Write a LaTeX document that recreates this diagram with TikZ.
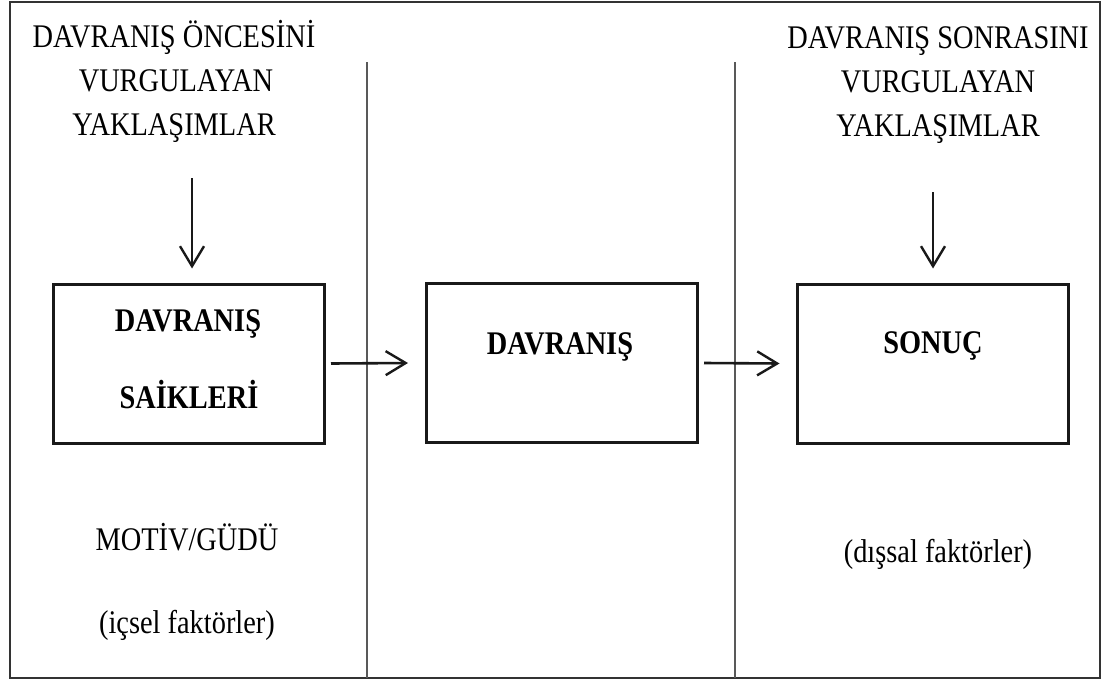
\documentclass[tikz,border=0pt]{standalone}
\usepackage{fontspec}
\setmainfont[FakeStretch=0.86]{Liberation Serif}
\usetikzlibrary{arrows.meta}
\begin{document}
\begin{tikzpicture}[x=1pt,y=-1pt,
  txt/.style={anchor=base, inner sep=0pt, text=black, font=\fontsize{33}{40}\selectfont},
  btxt/.style={txt, font=\fontsize{33}{40}\selectfont\bfseries},
  stage/.style={draw=black!90, line width=3pt, minimum width=271pt, minimum height=159pt, inner sep=0pt},
  flow/.style={line width=2.6pt, draw=black!90, -{Straight Barb[length=20pt,width=24pt,line width=2.4pt]}},
  divider/.style={line width=1.5pt, draw=black!65}]
\useasboundingbox (0,0) rectangle (1101,680);
\fill[white] (0,0) rectangle (1101,680);
% outer frame and column dividers
\draw[line width=1.5pt, black!80] (10,2) rectangle (1100,678);
\draw[divider] (367,62) -- (367,678);
\draw[divider] (735,62) -- (735,678);

% column headers
\node[txt] (preA) at (174,47)  {DAVRANIŞ ÖNCESİNİ};
\node[txt] (preB) at (176,91)  {VURGULAYAN};
\node[txt] (preC) at (174,135) {YAKLAŞIMLAR};
\node[txt] (postA) at (938,48)  {DAVRANIŞ SONRASINI};
\node[txt] (postB) at (938,92)  {VURGULAYAN};
\node[txt] (postC) at (938,136) {YAKLAŞIMLAR};

% the three stages
\node[stage] (motive) at (189,363.5) {};
\node[stage] (action) at (562,363) {};
\node[stage] (result) at (932.5,363.5) {};

\node[btxt] (motiveA) at (188,331) {DAVRANIŞ};
\node[btxt] (motiveB) at (189,408) {SAİKLERİ};
\node[btxt] (actionT) at (560,354) {DAVRANIŞ};
\node[btxt] (resultT) at (933,353) {SONUÇ};

% notes under the stages
\node[txt] (noteA) at (187,550) {MOTİV/GÜDÜ};
\node[txt] (noteB) at (187,633) {(içsel faktörler)};
\node[txt] (noteC) at (938,562) {(dışsal faktörler)};

% arrows
\coordinate (preTop) at (192,178);
\coordinate (postTop) at (933,192);
\draw[flow] (preTop) -- ([yshift=14pt]preTop |- motive.north);
\draw[flow] (postTop) -- ([yshift=14pt]postTop |- result.north);
\draw[flow] ([xshift=5pt]motive.east) -- ([xshift=-17pt]action.west);
\draw[flow] ([xshift=5pt]action.east) -- ([xshift=-16pt]result.west);
\end{tikzpicture}
\end{document}
